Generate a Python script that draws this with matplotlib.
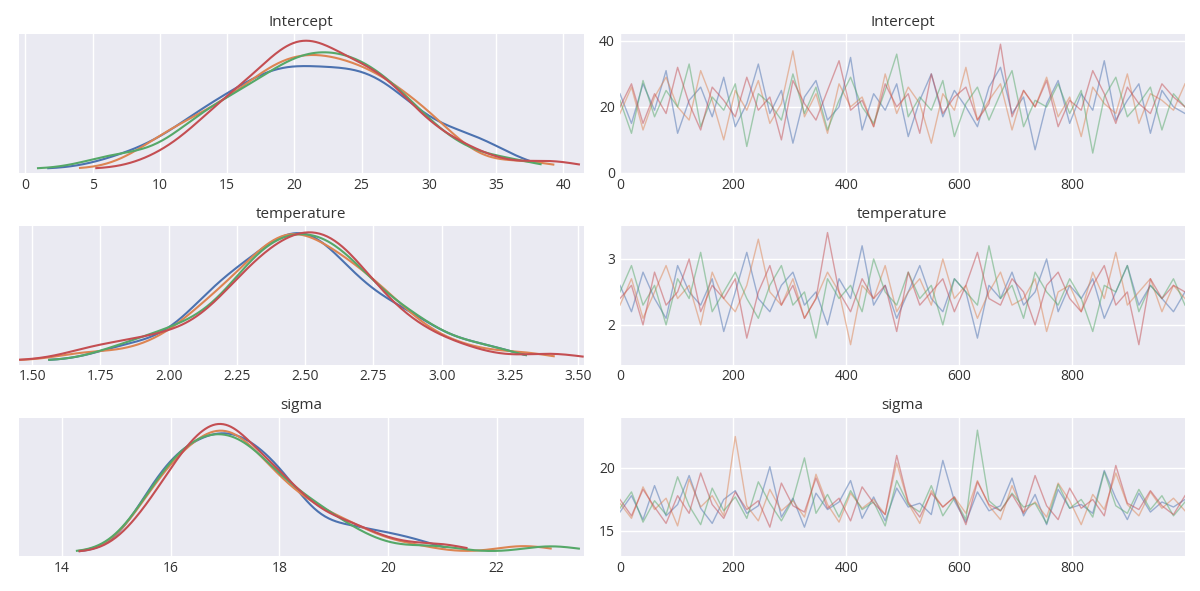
import numpy as np
import matplotlib
matplotlib.use('Agg')
import matplotlib.pyplot as plt
from matplotlib.ticker import FormatStrFormatter

# hand-read chain samples (thinned) per parameter, 4 chains each
intercept_chains = [
    "24 15 27 19 31 12 22 26 17 29 14 21 33 18 25 9 23 28 16 20 35 13 24 19 27 11 22 30 17 25 20 14 26 32 18 23 7 21 28 15 24 19 34 16 22 27 12 25 20 18",
    "18 26 13 23 29 20 16 31 22 10 25 19 28 15 21 37 17 24 12 27 20 23 14 30 18 26 21 9 24 19 32 16 22 27 13 25 20 29 17 23 11 26 21 18 30 15 24 22 19 27",
    "22 12 28 17 25 20 33 14 23 19 27 8 24 21 16 30 18 26 13 22 29 20 15 25 36 17 23 19 28 11 21 26 16 24 31 14 22 20 27 18 25 6 23 29 17 21 26 13 24 20",
    "20 27 15 24 18 32 21 13 26 22 17 29 19 23 10 28 21 16 25 34 19 22 14 27 20 24 12 30 18 23 26 16 21 39 17 25 20 28 14 22 19 31 24 15 26 21 18 27 23 20",
]
temperature_chains = [
    "2.6 2.2 2.8 2.4 2.1 2.9 2.5 2.3 2.7 1.9 2.5 3.1 2.4 2.2 2.6 2.8 2.3 2.5 2.0 2.7 2.4 3.2 2.3 2.6 2.1 2.5 2.9 2.4 2.2 2.7 2.5 1.8 2.6 2.4 2.8 2.3 2.5 3.0 2.2 2.6 2.4 2.7 2.1 2.5 2.9 2.3 2.6 2.4 2.2 2.5",
    "2.3 2.7 2.1 2.5 2.9 2.4 2.6 2.0 2.8 2.4 2.2 2.6 3.3 2.5 2.3 2.7 2.1 2.4 2.8 2.5 1.7 2.6 2.4 2.9 2.2 2.5 2.7 2.3 3.0 2.4 2.6 2.1 2.5 2.8 2.3 2.4 2.7 1.9 2.5 2.6 2.2 2.8 2.4 3.1 2.3 2.5 2.7 2.2 2.6 2.4",
    "2.5 2.9 2.3 2.6 2.0 2.7 2.4 3.1 2.2 2.5 2.8 2.4 2.1 2.6 2.9 2.3 2.5 1.8 2.7 2.4 2.6 2.2 3.0 2.5 2.3 2.8 2.4 2.6 2.0 2.7 2.5 2.3 3.2 2.4 2.6 2.1 2.8 2.5 2.3 2.7 2.4 1.9 2.6 2.5 2.9 2.2 2.6 2.4 2.7 2.3",
    "2.4 2.6 2.0 2.8 2.3 2.5 3.0 2.2 2.6 2.4 2.7 1.8 2.5 2.9 2.3 2.6 2.1 2.4 3.4 2.5 2.2 2.7 2.4 2.6 1.9 2.8 2.3 2.5 2.7 2.2 2.6 3.1 2.4 2.3 2.7 2.5 2.0 2.6 2.8 2.4 2.2 2.6 2.9 2.3 2.5 1.7 2.7 2.4 2.6 2.5",
]
sigma_chains = [
    "16.5 17.8 15.9 18.6 16.2 17.1 19.4 16.8 15.6 17.5 18.2 16.4 17.0 20.1 16.1 17.6 15.3 18.0 16.7 17.3 19.0 16.0 17.7 15.8 18.4 16.9 17.2 16.3 20.6 17.4 15.7 18.1 16.6 17.0 19.2 16.2 17.9 15.5 18.3 16.8 17.1 16.4 19.8 17.6 15.9 18.0 16.5 17.3 16.9 17.5",
    "17.2 16.0 18.5 16.7 17.6 15.4 19.1 16.9 17.8 16.2 22.5 17.0 15.8 18.3 16.6 17.4 16.1 19.5 17.1 15.7 18.0 16.8 17.5 16.3 20.4 17.2 15.6 18.2 16.9 17.7 16.4 19.0 17.0 15.9 18.6 16.5 17.3 16.1 18.8 17.4 15.5 17.9 16.7 19.6 17.1 16.2 18.1 16.8 17.6 16.6",
    "16.8 18.1 15.7 17.4 16.3 19.3 17.0 15.5 18.4 16.6 17.7 16.0 18.9 17.2 15.8 17.5 20.8 16.4 17.9 16.1 18.2 16.7 17.3 15.4 19.0 17.1 16.5 18.6 16.2 17.6 15.9 23.0 17.4 16.6 18.0 16.9 17.2 15.6 18.7 16.8 17.5 16.1 19.7 17.0 16.4 18.3 16.7 17.8 16.2 17.3",
    "17.5 16.2 18.3 16.9 15.6 17.8 16.4 19.6 17.1 16.0 18.1 16.7 17.4 15.3 18.8 17.0 16.5 19.2 16.8 17.6 15.8 18.5 17.2 16.3 21.0 17.3 16.1 18.0 16.9 17.7 15.5 18.9 17.1 16.6 17.9 16.4 19.4 17.0 15.9 18.4 16.8 17.5 16.2 20.2 17.2 16.7 18.2 17.0 16.3 17.8",
]
param_names = ['Intercept', 'temperature', 'sigma']
n_draws = 1000

kde_xticks = [np.arange(0, 41, 5), np.arange(1.5, 3.51, 0.25), np.arange(14, 23, 2)]
trace_yticks = [[0, 20, 40], [2, 3], [15, 20]]
colors = ['#4C72B0', '#DD8452', '#55A868', '#C44E52']


def kde(samples):
    h = 0.8 * samples.std() * len(samples) ** -0.2
    grid = np.linspace(samples.min() - 2.2 * h, samples.max() + 1.0 * h, 300)
    dens = np.exp(-0.5 * ((grid[:, None] - samples[None, :]) / h) ** 2).sum(1)
    return grid, dens / (len(samples) * h * np.sqrt(2 * np.pi))


plt.rcParams['font.family'] = ['Open Sans', 'DejaVu Sans']
fig, axes = plt.subplots(3, 2, figsize=(12, 5.91), dpi=100)

for row, chains in enumerate([intercept_chains, temperature_chains, sigma_chains]):
    ax_k, ax_t = axes[row]
    for ax in (ax_k, ax_t):
        ax.set_facecolor('#EAEAF2')
        ax.grid(True, color='white', lw=1)
        ax.set_axisbelow(True)
        for s in ax.spines.values():
            s.set_visible(False)
        ax.tick_params(length=0, labelsize=10, colors='#333333')
        ax.set_title(param_names[row], fontsize=11, color='#333333')
    for c, txt in enumerate(chains):
        vals = np.array(txt.split(), dtype=float)
        gx, gy = kde(vals)
        ax_k.plot(gx, gy, color=colors[c], lw=1.5)
        xs = np.linspace(0, n_draws - 1, len(vals))
        ax_t.plot(xs, vals, color=colors[c], lw=1, alpha=0.5)
    ax_k.set_yticks([])
    ax_k.set_xticks(kde_xticks[row])
    ax_k.set_ylim(bottom=-0.03 * ax_k.get_ylim()[1])
    if row == 1:
        ax_k.xaxis.set_major_formatter(FormatStrFormatter('%.2f'))
    ax_t.set_xlim(0, n_draws - 1)
    ax_t.set_xticks([0, 200, 400, 600, 800])
    ax_t.set_yticks(trace_yticks[row])

axes[0, 0].set_xlim(-0.5, 41.5)
axes[1, 0].set_xlim(1.45, 3.52)
axes[2, 0].set_xlim(13.2, 23.6)
axes[0, 1].set_ylim(0, 42)
axes[1, 1].set_ylim(1.4, 3.5)
axes[2, 1].set_ylim(13, 24)

fig.tight_layout(h_pad=1.0, w_pad=1.0)
fig.savefig('out.png')
